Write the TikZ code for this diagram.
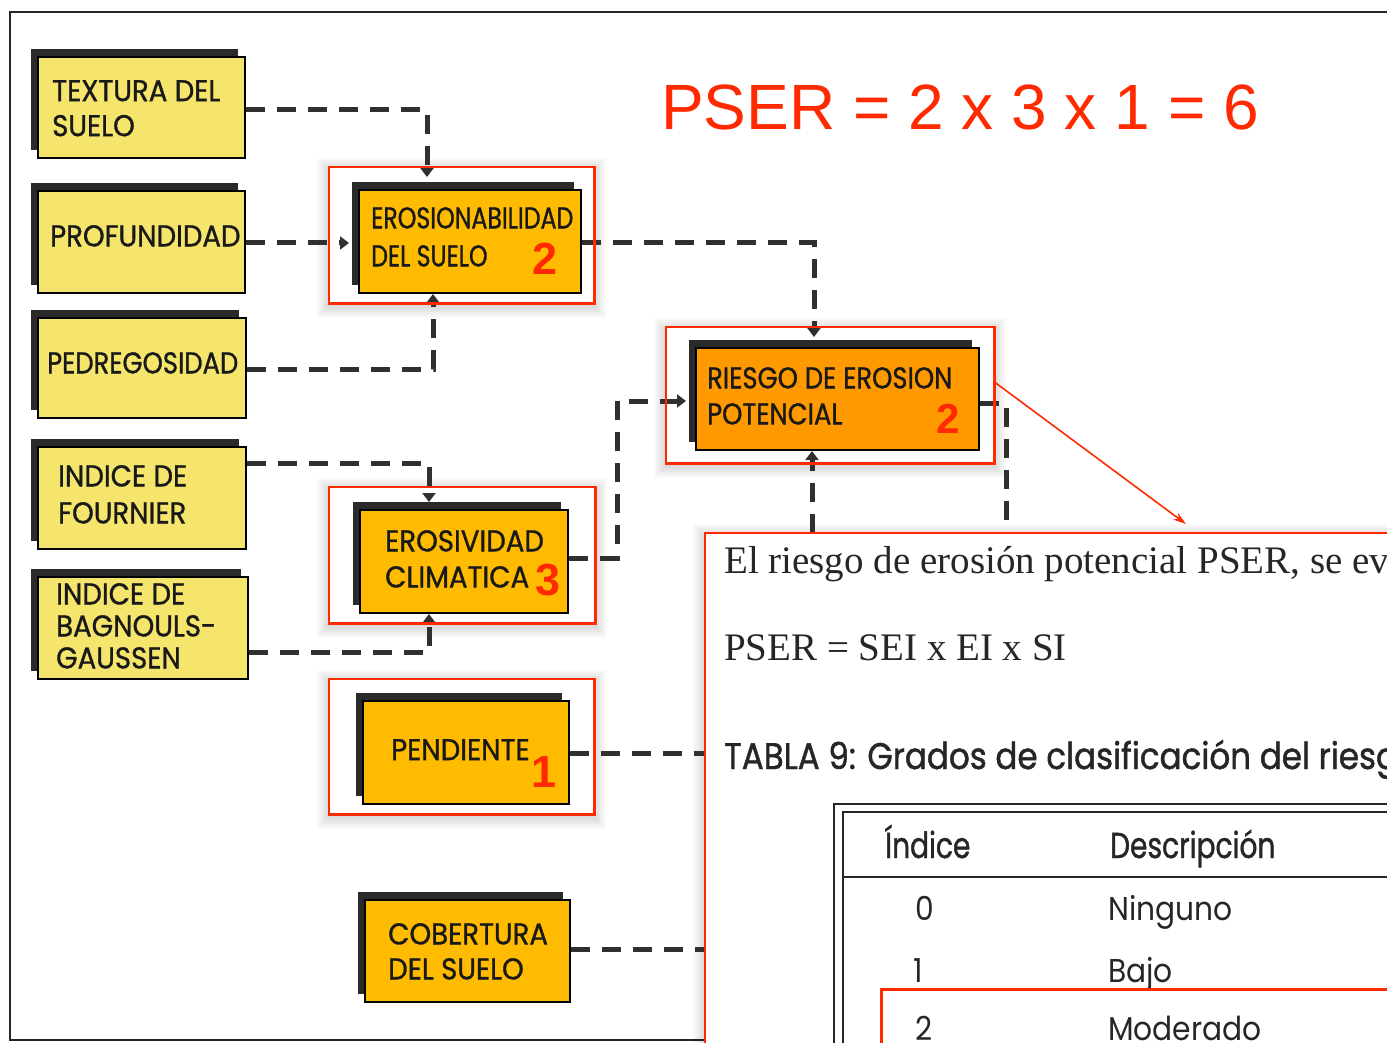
\documentclass[tikz,border=0pt]{standalone}
\usepackage{fontspec}
\usetikzlibrary{arrows.meta,shadows}
\newfontfamily\futf[FakeStretch=0.92,FakeBold=1]{Poppins}
\newfontfamily\futm[FakeStretch=0.86,FakeBold=1]{Poppins}
\newfontfamily\futc[FakeStretch=0.79,FakeBold=1]{Poppins}
\newfontfamily\futr[FakeStretch=0.90]{Poppins}
\newfontfamily\futh[FakeStretch=0.78,FakeBold=1]{Poppins}
\newfontfamily\futt[FakeStretch=0.88,FakeBold=1.2]{Poppins}
\newfontfamily\arlf{Liberation Sans}
\newfontfamily\tmsf{Liberation Serif}
\newcommand\boxfont{\futf\fontsize{30}{36}\selectfont}
\definecolor{yel}{HTML}{F5E56C}
\definecolor{org}{HTML}{FFBB00}
\definecolor{orgb}{HTML}{FF9900}
\definecolor{rd}{HTML}{FF2A00}
\definecolor{lnc}{HTML}{303030}
\definecolor{shd}{HTML}{2A2A2A}
\begin{document}
\begin{tikzpicture}[x=1pt,y=-1pt,
  box/.style={draw=black, line width=2pt, anchor=north west, inner sep=0pt,
    general shadow={fill=shd, shadow xshift=-7pt, shadow yshift=8pt}},
  ybox/.style={box, fill=yel},
  obox/.style={box, fill=org},
  rbox/.style={box, fill=orgb},
  lab/.style={anchor=north west, inner sep=0pt, align=left, font=\boxfont, text=black!90},
  num/.style={anchor=base west, inner sep=0pt, text=rd, font=\arlf\bfseries\fontsize{45}{45}\selectfont},
  frm/.style={anchor=north west, inner sep=0pt},
  rstroke/.style={draw=rd, line width=2.2pt},
  conn/.style={draw=lnc, line width=5pt, dash pattern=on 19pt off 12pt},
  tip/.style={-{Triangle[width=13pt,length=9pt]}},
  serif/.style={anchor=base west, inner sep=0pt, font=\tmsf\fontsize{39}{39}\selectfont, text=black!85},
  fut/.style={anchor=base west, inner sep=0pt, text=black!85},
]
\useasboundingbox (0,0) rectangle (1387,1043);
\clip (0,0) rectangle (1387,1043);
\fill[white] (0,0) rectangle (1387,1043);

% outer frame
\draw[line width=2pt, black!85] (1400,12) -- (10,12) -- (10,1040) -- (720,1040);

% red frames (positions)
\node[frm, minimum width=265pt, minimum height=136pt] (eroR) at (329,167) {};
\node[frm, minimum width=266pt, minimum height=136pt] (eclR) at (329,487) {};
\node[frm, minimum width=265pt, minimum height=135pt] (penR) at (329,679) {};
\node[frm, minimum width=328pt, minimum height=136pt] (rieR) at (666,327) {};
\node[frm, minimum width=760pt, minimum height=560pt] (tbox) at (705,533) {};

% soft glow
\foreach \n in {eroR,eclR,penR,rieR,tbox}{
  \foreach \r in {2,4,...,12}{
    \fill[black,opacity=0.022] ([shift={(-\r,-\r+3)}]\n.north west) rectangle ([shift={(\r,\r+3)}]\n.south east);
  }
}
\foreach \n in {eroR,eclR,penR,rieR}{
  \fill[white] (\n.north west) rectangle (\n.south east);
}

% boxes
\node[ybox, minimum width=207pt, minimum height=101pt] (tex) at (37,56) {};
\node[ybox, minimum width=207pt, minimum height=102pt] (pro) at (37,190) {};
\node[ybox, minimum width=208pt, minimum height=100pt] (ped) at (37,317) {};
\node[ybox, minimum width=208pt, minimum height=102pt] (fou) at (37,446) {};
\node[ybox, minimum width=210pt, minimum height=102pt] (bag) at (37,576) {};
\node[obox, minimum width=222pt, minimum height=103pt] (ero) at (358,189) {};
\node[obox, minimum width=208pt, minimum height=103pt] (ecl) at (359,509) {};
\node[obox, minimum width=206pt, minimum height=103pt] (pen) at (362,700) {};
\node[obox, minimum width=205pt, minimum height=102pt] (cob) at (364,899) {};
\node[rbox, minimum width=283pt, minimum height=102pt] (rie) at (695,347) {};

% labels
\node[lab, font=\futf\fontsize{30}{35}\selectfont] (ltex) at (52,80) {TEXTURA DEL\\SUELO};
\node[lab] (lpro) at (50,225) {PROFUNDIDAD};
\node[lab, font=\futm\fontsize{30}{36}\selectfont] (lped) at (47,352) {PEDREGOSIDAD};
\node[lab, font=\futf\fontsize{30}{37}\selectfont] (lfou) at (58,465) {INDICE DE\\FOURNIER};
\node[lab, font=\futf\fontsize{30}{32}\selectfont] (lbag) at (56,583) {INDICE DE\\BAGNOULS-\\GAUSSEN};
\node[lab, font=\futc\fontsize{30}{38}\selectfont] (lero) at (371,207) {EROSIONABILIDAD\\DEL SUELO};
\node[lab] (lecl) at (385,530) {EROSIVIDAD\\CLIMATICA};
\node[lab] (lpen) at (391,739) {PENDIENTE};
\node[lab, font=\futf\fontsize{30}{35}\selectfont] (lcob) at (388,923) {COBERTURA\\DEL SUELO};
\node[lab, font=\futm\fontsize{30}{36}\selectfont] (lrie) at (707,367) {RIESGO DE EROSION\\POTENCIAL};

% red numbers
\node[num] (nero) at (532,274) {2};
\node[num] (necl) at (535,595) {3};
\node[num] (npen) at (531,787) {1};
\node[num, font=\arlf\bfseries\fontsize{42}{42}\selectfont] (nrie) at (936,433) {2};

% connectors
\draw[conn, tip, shorten >=12pt] (tex.east |- 0,110) -| (ero.north -| 427,0);
\draw[conn, tip, shorten >=9pt] (pro.east |- 0,243) -- (ero.west |- 0,243);
\draw[conn, tip] (ped.east |- 0,369) -| (ero.south -| 433,0);
\draw[conn, tip, shorten >=7pt] (fou.east |- 0,463) -| (ecl.north -| 429,0);
\draw[conn, tip] (bag.east |- 0,652) -| (ecl.south -| 429,0);
\draw[conn, tip, shorten >=10pt] (ero.east |- 0,243) -| (rie.north -| 814,0);
\draw[conn, tip, shorten >=9pt] (ecl.east |- 0,558) -- (617,558) |- (rie.west |- 0,401);
\draw[conn] (pen.east |- 0,753) -- (tbox.west |- 0,753);
\draw[conn] (cob.east |- 0,949) -- (tbox.west |- 0,949);
\draw[conn, tip] (tbox.north -| 812,0) -- (rie.south -| 812,0);
\draw[conn] (rie.east |- 0,403) -| (tbox.north -| 1006,0);

% text box
\fill[white] (tbox.north west) rectangle (tbox.south east);
\node[serif] (t1) at (724,573) {El riesgo de erosión potencial PSER, se ev};
\node[serif] (t2) at (724,660) {PSER = SEI x EI x SI};
\node[fut, font=\futt\fontsize{37}{37}\selectfont] (t3) at (724,769) {TABLA 9: Grados de clasificación del riesg};

% table
\draw[line width=2pt, black!85] (1400,804) -- (834,804) -- (834,1060);
\draw[line width=2pt, black!85] (1400,812) -- (843,812) -- (843,1060);
\draw[line width=2.5pt, black!85] (843,877) -- (1400,877);
\node[fut, font=\futh\fontsize{36}{36}\selectfont] (h1) at (885,858) {Índice};
\node[fut, font=\futh\fontsize{36}{36}\selectfont] (h2) at (1110,858) {Descripción};
\node[fut, font=\futr\fontsize{33}{33}\selectfont] (r0a) at (915,920) {0};
\node[fut, font=\futr\fontsize{33}{33}\selectfont] (r0b) at (1108,920) {Ninguno};
\node[fut, font=\futr\fontsize{33}{33}\selectfont] (r1a) at (913,982) {1};
\node[fut, font=\futr\fontsize{33}{33}\selectfont] (r1b) at (1108,982) {Bajo};
\node[fut, font=\futr\fontsize{33}{33}\selectfont] (r2a) at (915,1040) {2};
\node[fut, font=\futr\fontsize{33}{33}\selectfont] (r2b) at (1108,1040) {Moderado};
\node[frm, minimum width=520pt, minimum height=80pt] (mod) at (881,989) {};
\draw[draw=rd, line width=3pt] (mod.south west) -- (mod.north west) -- (mod.north east);

% red frame strokes
\foreach \n in {eroR,eclR,penR,rieR,tbox}{
  \draw[rstroke] (\n.north west) rectangle (\n.south east);
}

% red annotation arrow
\coordinate (arrEnd) at (1186,524);
\draw[draw=rd, line width=1.6pt, -{Stealth[length=13pt,width=8pt]}] (rieR.east |- 0,382) -- (arrEnd);

% title
\node[anchor=base west, inner sep=0pt, text=rd, font=\arlf\fontsize{64}{64}\selectfont] (title) at (661,130) {PSER = 2 x 3 x 1 = 6};
\end{tikzpicture}
\end{document}
